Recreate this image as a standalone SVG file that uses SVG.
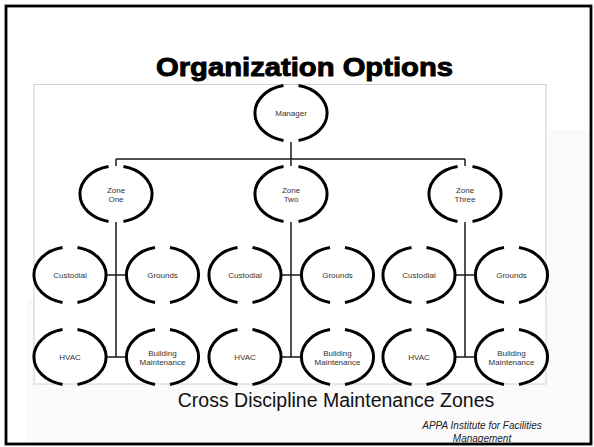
<svg xmlns="http://www.w3.org/2000/svg" xmlns:xlink="http://www.w3.org/1999/xlink" width="594" height="447" viewBox="0 0 594 447">
<style>
.ring{fill:none;stroke:#000;stroke-width:3}
.lbl{font-family:"Liberation Sans",Arial,sans-serif;font-size:8px;fill:#333;text-anchor:middle}
.conn{fill:none;stroke:#1a1a1a;stroke-width:1.5}
</style>
<defs>
<path id="ring" class="ring" d="M-7.5,-27.4 A36 28 0 0 0 -7.5,27.4 M7.5,-27.4 A36 28 0 0 1 7.5,27.4"/>
</defs>
<rect x="0" y="0" width="594" height="447" fill="#fff"/>
<path d="M27,300 H548 V130 H590 V443 H27 Z" fill="#fafafa"/>
<rect x="6" y="6" width="585" height="438" fill="none" stroke="#000" stroke-width="2.8"/>
<text x="304.5" y="76" font-family="'Liberation Sans',Arial,sans-serif" font-weight="bold" font-size="25" fill="#000" stroke="#000" stroke-width="0.9" text-anchor="middle" textLength="297" lengthAdjust="spacingAndGlyphs">Organization Options</text>
<rect x="34" y="84.5" width="512" height="299.5" fill="#fff" stroke="#d0d0d0" stroke-width="1"/>
<g id="connectors">
<path class="conn" d="M291,142 V166 M116,159 H465 M116,159 V166 M465,159 V166"/>
<path class="conn" d="M116,222 V357 M105,275 H127 M105,357 H127"/>
<path class="conn" d="M291,222 V357 M280,275 H302 M280,357 H302"/>
<path class="conn" d="M465,222 V357 M454,275 H476 M454,357 H476"/>
</g>
<g id="manager" transform="translate(291,113)"><use xlink:href="#ring"/><text class="lbl" y="3">Manager</text></g>
<g id="zone-one" transform="translate(116,194)"><use xlink:href="#ring"/><text class="lbl" y="-1.5">Zone</text><text class="lbl" y="8">One</text></g>
<g id="zone-two" transform="translate(291,194)"><use xlink:href="#ring"/><text class="lbl" y="-1.5">Zone</text><text class="lbl" y="8">Two</text></g>
<g id="zone-three" transform="translate(465,194)"><use xlink:href="#ring"/><text class="lbl" y="-1.5">Zone</text><text class="lbl" y="8">Three</text></g>
<g id="custodial-1" transform="translate(70,275)"><use xlink:href="#ring"/><text class="lbl" y="3">Custodial</text></g>
<g id="grounds-1" transform="translate(162.5,275)"><use xlink:href="#ring"/><text class="lbl" y="3">Grounds</text></g>
<g id="hvac-1" transform="translate(70,357)"><use xlink:href="#ring"/><text class="lbl" y="3">HVAC</text></g>
<g id="building-1" transform="translate(162.5,357)"><use xlink:href="#ring"/><text class="lbl" y="-1.5">Building</text><text class="lbl" y="8">Maintenance</text></g>
<g id="custodial-2" transform="translate(245,275)"><use xlink:href="#ring"/><text class="lbl" y="3">Custodial</text></g>
<g id="grounds-2" transform="translate(337.5,275)"><use xlink:href="#ring"/><text class="lbl" y="3">Grounds</text></g>
<g id="hvac-2" transform="translate(245,357)"><use xlink:href="#ring"/><text class="lbl" y="3">HVAC</text></g>
<g id="building-2" transform="translate(337.5,357)"><use xlink:href="#ring"/><text class="lbl" y="-1.5">Building</text><text class="lbl" y="8">Maintenance</text></g>
<g id="custodial-3" transform="translate(419,275)"><use xlink:href="#ring"/><text class="lbl" y="3">Custodial</text></g>
<g id="grounds-3" transform="translate(511.5,275)"><use xlink:href="#ring"/><text class="lbl" y="3">Grounds</text></g>
<g id="hvac-3" transform="translate(419,357)"><use xlink:href="#ring"/><text class="lbl" y="3">HVAC</text></g>
<g id="building-3" transform="translate(511.5,357)"><use xlink:href="#ring"/><text class="lbl" y="-1.5">Building</text><text class="lbl" y="8">Maintenance</text></g>
<text x="336" y="406.5" font-family="'Liberation Sans',Arial,sans-serif" font-size="19.5" fill="#111" text-anchor="middle">Cross Discipline Maintenance Zones</text>
<text x="482" y="429" font-family="'Liberation Sans',Arial,sans-serif" font-size="10" font-style="italic" fill="#222" text-anchor="middle">APPA Institute for Facilities</text>
<text x="482" y="441.5" font-family="'Liberation Sans',Arial,sans-serif" font-size="10" font-style="italic" fill="#222" text-anchor="middle">Management</text>
</svg>
